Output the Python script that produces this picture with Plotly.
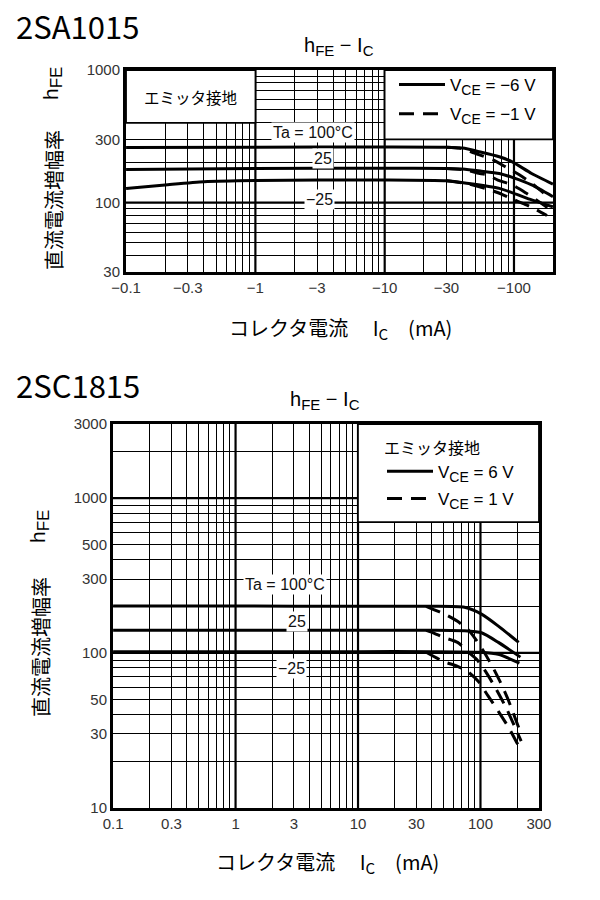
import math
import plotly.graph_objects as go

# ---------------- data ----------------
# 2SA1015 (PNP): IC is negative; magnitudes in mA are plotted, labels carry the minus sign
sa_ic_6v_100 = [0.1, 1, 10, 30, 40, 54, 77, 97, 137, 200]
sa_hfe_6v_100 = [260, 262, 263, 262, 258, 242, 222, 203, 166, 138]
sa_ic_6v_25 = [0.1, 1, 10, 30, 40, 55, 77, 97, 137, 200]
sa_hfe_6v_25 = [178, 181, 182, 181, 179, 173, 166, 155, 136, 111]
sa_ic_6v_m25 = [0.1, 0.2, 0.4, 1, 10, 30, 43, 77, 137, 200]
sa_hfe_6v_m25 = [128, 136, 144, 147, 148, 146, 140, 128, 105, 93]

sa_ic_1v_100 = [30, 38, 47, 57, 69, 87, 110, 140, 170]
sa_hfe_1v_100 = [262, 258, 241, 225, 210, 185, 162, 138, 118]
sa_ic_1v_25 = [30, 43, 52, 62, 75, 97, 124, 160, 200]
sa_hfe_1v_25 = [181, 176, 167, 162, 148, 136, 118, 100, 85]
sa_ic_1v_m25 = [30, 45, 60, 80, 100, 125, 150, 180]
sa_hfe_1v_m25 = [146, 138, 128, 116, 105, 96, 88, 80]

sa_x_ticks = [0.1, 0.3, 1, 3, 10, 30, 100]
sa_x_ticktext = ["\u22120.1", "\u22120.3", "\u22121", "\u22123", "\u221210", "\u221230", "\u2212100"]
sa_y_ticks = [30, 100, 300, 1000]
sa_x_decades = [1, 10, 100]
sa_y_decades = [100]
sa_x_max = 200

sa_label_x = [2.8, 3.32, 3.15]
sa_label_y = [338, 217, 105]
sa_label_text = ["Ta = 100\u00b0C", "25", "\u221225"]

# 2SC1815 (NPN)
sc_ic_6v_100 = [0.1, 1, 10, 40, 74, 102, 140, 205]
sc_hfe_6v_100 = [201, 201, 200, 200, 197, 178, 149, 117]
sc_ic_6v_25 = [0.1, 1, 10, 40, 74, 102, 140, 212]
sc_hfe_6v_25 = [140, 140, 140, 140, 139, 135, 117, 94]
sc_ic_6v_m25 = [0.1, 1, 10, 40, 100, 140, 208]
sc_hfe_6v_m25 = [102, 102, 102, 102, 101, 98, 86]

sc_ic_1v_100 = [36, 42, 51, 65, 80, 93, 108, 125, 145, 170, 205]
sc_hfe_1v_100 = [200, 190, 178, 160, 140, 120, 100, 82, 65, 49, 33]
sc_ic_1v_25 = [36, 42, 50, 65, 80, 93, 110, 135, 165, 195, 215]
sc_hfe_1v_25 = [140, 134, 126, 117, 101, 91, 76, 58, 43, 32, 27]
sc_ic_1v_m25 = [36, 50, 65, 80, 97, 115, 140, 170, 200, 220]
sc_hfe_1v_m25 = [101, 88, 82, 75, 65, 53, 42, 33, 26, 23]

sc_x_ticks = [0.1, 0.3, 1, 3, 10, 30, 100, 300]
sc_x_ticktext = ["0.1", "0.3", "1", "3", "10", "30", "100", "300"]
sc_y_ticks = [10, 30, 50, 100, 300, 500, 1000, 3000]
sc_x_decades = [1, 10, 100]
sc_y_decades = [100, 1000]
sc_x_max = 300

sc_label_x = [2.52, 3.16, 2.88]
sc_label_y = [277, 160, 79]
sc_label_text = ["Ta = 100\u00b0C", "25", "\u221225"]

# ---------------- styling ----------------
JP = "Noto Sans CJK JP"
LAT = "Liberation Sans, Arial, Noto Sans CJK JP"
EPS = 0.0008
DASH = "15px,9px"


def minor_vals(e_lo, e_hi, skip):
    return [m * 10 ** e for e in range(e_lo, e_hi) for m in range(2, 10)
            if round(m * 10 ** e, 6) not in skip]


def sub(t, px):
    return '<sub><span style="font-size:%dpx">%s</span></sub>' % (px, t)


fig = go.Figure()


def curve(ic, hfe, xa, ya, dash, name=None, legend="legend"):
    fig.add_trace(go.Scatter(
        x=ic, y=hfe, xaxis=xa, yaxis=ya, mode="lines",
        line=dict(color="black", width=3, dash=dash, shape="spline", smoothing=0.6),
        name=name if name else "", showlegend=name is not None, legend=legend,
        legendgroup=name if name else None, hoverinfo="skip"))


curve(sa_ic_6v_100, sa_hfe_6v_100, "x", "y", "solid", "V" + sub("CE", 14) + " = \u22126 V", "legend")
curve(sa_ic_6v_25, sa_hfe_6v_25, "x", "y", "solid")
curve(sa_ic_6v_m25, sa_hfe_6v_m25, "x", "y", "solid")
curve(sa_ic_1v_100, sa_hfe_1v_100, "x", "y", DASH, "V" + sub("CE", 14) + " = \u22121 V", "legend")
curve(sa_ic_1v_25, sa_hfe_1v_25, "x", "y", DASH)
curve(sa_ic_1v_m25, sa_hfe_1v_m25, "x", "y", DASH)

curve(sc_ic_6v_100, sc_hfe_6v_100, "x2", "y2", "solid", "V" + sub("CE", 14) + " = 6 V", "legend2")
curve(sc_ic_6v_25, sc_hfe_6v_25, "x2", "y2", "solid")
curve(sc_ic_6v_m25, sc_hfe_6v_m25, "x2", "y2", "solid")
curve(sc_ic_1v_100, sc_hfe_1v_100, "x2", "y2", DASH, "V" + sub("CE", 14) + " = 1 V", "legend2")
curve(sc_ic_1v_25, sc_hfe_1v_25, "x2", "y2", DASH)
curve(sc_ic_1v_m25, sc_hfe_1v_m25, "x2", "y2", DASH)

tickfont = dict(family=LAT, size=15, color="#333")


def axis(domain, anchor, rng, tickvals, ticktext, minor):
    return dict(type="log", domain=domain, anchor=anchor, range=rng, automargin=False,
                tickmode="array", tickvals=tickvals, ticktext=ticktext,
                showline=True, linecolor="black", linewidth=3, mirror=True,
                ticks="", showgrid=True, gridcolor="black", gridwidth=1,
                zeroline=False, tickfont=tickfont, fixedrange=True,
                minor=dict(tickmode="array", tickvals=minor, showgrid=True,
                           gridcolor="black", gridwidth=1, ticks=""))


sa_xr = [-1 - EPS, math.log10(sa_x_max) + EPS]
sa_yr = [math.log10(30) - EPS, 3 + EPS]
sc_xr = [-1 - EPS, math.log10(sc_x_max) + EPS]
sc_yr = [1 - EPS, math.log10(3000) + EPS]

fig.update_layout(
    width=600, height=900, margin=dict(l=0, r=0, t=0, b=0, autoexpand=False),
    paper_bgcolor="white", plot_bgcolor="white",
    xaxis=axis([126 / 600, 553 / 600], "y", sa_xr, sa_x_ticks, sa_x_ticktext,
               minor_vals(-1, 3, sa_x_ticks)),
    yaxis=axis([1 - 272 / 900, 1 - 70 / 900], "x", sa_yr, sa_y_ticks,
               [str(v) for v in sa_y_ticks], minor_vals(1, 3, sa_y_ticks)),
    xaxis2=axis([113 / 600, 539 / 600], "y2", sc_xr, sc_x_ticks, sc_x_ticktext,
                minor_vals(-1, 3, sc_x_ticks)),
    yaxis2=axis([1 - 808 / 900, 1 - 424 / 900], "x2", sc_yr, sc_y_ticks,
                [str(v) for v in sc_y_ticks], minor_vals(1, 4, sc_y_ticks)),
    legend=dict(x=394 / 600, xanchor="left", y=1 - 67 / 900, yanchor="top",
                bgcolor="rgba(0,0,0,0)", font=dict(family=LAT, size=17, color="black"),
                traceorder="grouped", tracegroupgap=4, itemwidth=46),
    legend2=dict(x=382 / 600, xanchor="left", y=1 - 433 / 900, yanchor="top",
                 bgcolor="rgba(0,0,0,0)", font=dict(family=LAT, size=17, color="black"),
                 title=dict(text="\u30a8\u30df\u30c3\u30bf\u63a5\u5730",
                            font=dict(family=JP, size=16, color="black"), side="top"),
                 traceorder="grouped", tracegroupgap=2, itemwidth=46),
    showlegend=True,
)

# thicker decade grid lines
for xa, ya, xd, yd in [("x", "y", sa_x_decades, sa_y_decades),
                       ("x2", "y2", sc_x_decades, sc_y_decades)]:
    for d in xd:
        fig.add_shape(type="line", xref=xa, yref=ya + " domain", x0=d, x1=d, y0=0, y1=1,
                      line=dict(color="black", width=2.2), layer="below")
    for d in yd:
        fig.add_shape(type="line", xref=xa + " domain", yref=ya, x0=0, x1=1, y0=d, y1=d,
                      line=dict(color="black", width=2.2), layer="below")

# white boxes that hide the grid behind the legend / note blocks
boxes = [("x", "y", 0.1, 1, 400, 1000), ("x", "y", 10, sa_x_max, 300, 1000),
         ("x2", "y2", 10, sc_x_max, 700, 3000)]
for xr_, yr_, x0, x1, y0, y1 in boxes:
    fig.add_shape(type="rect", xref=xr_, yref=yr_, x0=x0, x1=x1, y0=y0, y1=y1,
                  fillcolor="white", line=dict(color="black", width=1.6), layer="above")

ann = []
for xs, ys, ts, xa, ya in [(sa_label_x, sa_label_y, sa_label_text, "x", "y"),
                           (sc_label_x, sc_label_y, sc_label_text, "x2", "y2")]:
    for xv, yv, t in zip(xs, ys, ts):
        ann.append(dict(x=math.log10(xv), y=math.log10(yv), xref=xa, yref=ya, text=t,
                        bgcolor="white", borderpad=1,
                        font=dict(family=LAT, size=16, color="#111")))

ann += [
    dict(x=14 / 600, y=1 - 25 / 900, text="2SA1015", xanchor="left",
         font=dict(family=JP, size=31, color="black")),
    dict(x=14 / 600, y=1 - 384 / 900, text="2SC1815", xanchor="left",
         font=dict(family=JP, size=31, color="black")),
    dict(x=339 / 600, y=1 - 46 / 900, text="h" + sub("FE", 15) + " \u2212 I" + sub("C", 15),
         font=dict(family=LAT, size=20, color="black")),
    dict(x=325 / 600, y=1 - 401 / 900, text="h" + sub("FE", 15) + " \u2212 I" + sub("C", 15),
         font=dict(family=LAT, size=20, color="black")),
    # vertical axis titles
    dict(x=53 / 600, y=1 - 200 / 900, textangle=-90,
         text="\u76f4\u6d41\u96fb\u6d41\u5897\u5e45\u7387",
         font=dict(family=JP, size=20, color="black")),
    dict(x=52 / 600, y=1 - 84 / 900, textangle=-90, text="h" + sub("FE", 17),
         font=dict(family=LAT, size=21, color="black")),
    dict(x=40 / 600, y=1 - 647 / 900, textangle=-90,
         text="\u76f4\u6d41\u96fb\u6d41\u5897\u5e45\u7387",
         font=dict(family=JP, size=20, color="black")),
    dict(x=39 / 600, y=1 - 527 / 900, textangle=-90, text="h" + sub("FE", 17),
         font=dict(family=LAT, size=21, color="black")),
    # horizontal axis titles
    dict(x=340 / 600, y=1 - 328 / 900,
         text="\u30b3\u30ec\u30af\u30bf\u96fb\u6d41\u3000\u00a0I" + sub("C", 15) + "\u3000(mA)",
         font=dict(family=JP, size=20, color="black")),
    dict(x=327 / 600, y=1 - 862 / 900,
         text="\u30b3\u30ec\u30af\u30bf\u96fb\u6d41\u3000\u00a0I" + sub("C", 15) + "\u3000(mA)",
         font=dict(family=JP, size=20, color="black")),
    dict(x=math.log10(0.316), y=math.log10(630), xref="x", yref="y",
         text="\u30a8\u30df\u30c3\u30bf\u63a5\u5730",
         font=dict(family=JP, size=15.5, color="black")),
]
for a in ann:
    a.setdefault("showarrow", False)
    a.setdefault("xref", "paper")
    a.setdefault("yref", "paper")
    a.setdefault("xanchor", "center")
    a.setdefault("yanchor", "middle")
fig.update_layout(annotations=ann)

fig.write_html("out.html", config={"displayModeBar": False},
               post_script="document.body.style.margin='0';")
